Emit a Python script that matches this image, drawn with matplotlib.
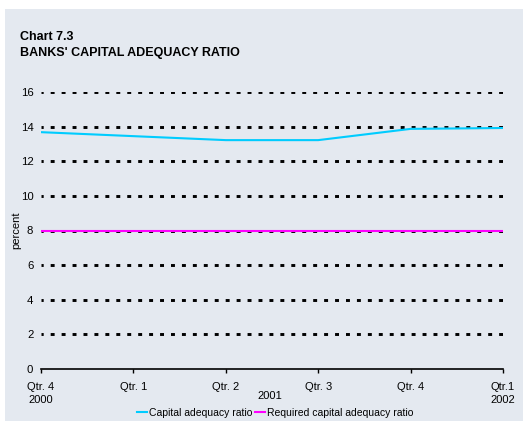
import matplotlib
matplotlib.use("Agg")
import matplotlib.pyplot as plt
from matplotlib.patches import Rectangle

plt.rcParams['font.family'] = ['Liberation Sans', 'DejaVu Sans']

quarters = ["Qtr. 4\n2000", "Qtr. 1", "Qtr. 2", "Qtr. 3", "Qtr. 4", "Qtr.1\n2002"]
capital_ratio = [13.68, 13.45, 13.22, 13.22, 13.87, 13.92]
required_ratio = [8, 8, 8, 8, 8, 8]
y_ticks = [0, 2, 4, 6, 8, 10, 12, 14, 16]

bg = "#E4E9F0"
W, H = 523, 421
fig = plt.figure(figsize=(W / 100, H / 100), dpi=100)
fig.patch.set_facecolor("white")
fig.patches.append(Rectangle((5 / W, 0), 1, 1 - 9 / H, transform=fig.transFigure,
                             facecolor=bg, edgecolor="none", zorder=-10))

ax = fig.add_axes([41 / W, 1 - 369 / H, (503 - 41) / W, (369 - 92) / H])
ax.set_facecolor(bg)
ax.patch.set_alpha(0)

x = list(range(len(quarters)))
for yv in y_ticks[1:]:
    ax.axhline(yv, color="black", lw=2.1, linestyle=(0.6, (1.35, 2.4)), zorder=1)

ax.plot(x, capital_ratio, color="#00CCFF", lw=1.5, zorder=3, label="Capital adequacy ratio")
ax.plot(x, required_ratio, color="#FF00FF", lw=1.5, zorder=3, label="Required capital adequacy ratio")

ax.set_xlim(0, 5)
ax.set_ylim(0, 16)
ax.set_yticks(y_ticks)
ax.set_yticklabels([str(v) for v in y_ticks], fontsize=8.2)
ax.tick_params(axis="y", length=0, pad=5.5)
ax.set_xticks(x)
ax.set_xticklabels(quarters, fontsize=8, linespacing=1.45)
ax.tick_params(axis="x", length=3, width=1, direction="out", pad=6)
for s in ["left", "right", "top"]:
    ax.spines[s].set_visible(False)
ax.spines["bottom"].set_linewidth(1.2)
ax.set_ylabel("percent", fontsize=8)
ax.yaxis.set_label_coords(-0.043, 0.5)

fig.text(270 / W, 1 - 396 / H, "2001", fontsize=8, ha="center", va="center")

fig.text(20 / W, 1 - 37 / H, "Chart 7.3", fontsize=9, fontweight="bold", va="center")
fig.text(20 / W, 1 - 53 / H, "BANKS' CAPITAL ADEQUACY RATIO", fontsize=9, fontweight="bold", va="center")

leg = fig.legend(loc="center", bbox_to_anchor=(275 / W, 1 - 413 / H), ncol=2, frameon=False,
                 fontsize=7.5, handlelength=1.0, handletextpad=0.15, columnspacing=0.3,
                 borderaxespad=0, borderpad=0)

fig.savefig("out.png", dpi=100)
